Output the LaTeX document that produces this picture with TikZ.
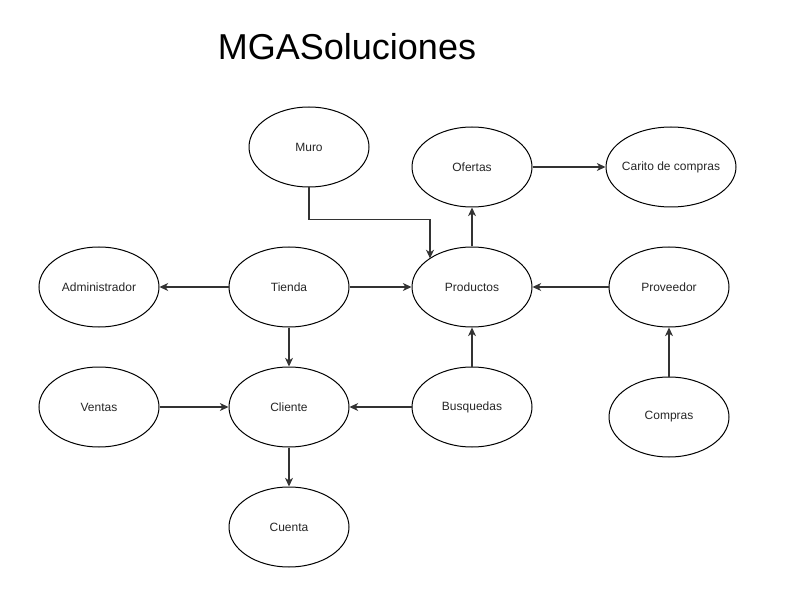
\documentclass[tikz,border=0pt]{standalone}
\usepackage{fontspec}
\setmainfont{Liberation Sans}
\usetikzlibrary{arrows.meta,calc,shapes.geometric}
\begin{document}
\begin{tikzpicture}[x=0.75pt,y=-0.75pt,
  ent/.style={ellipse,draw=black,line width=0.75pt,minimum width=90pt,minimum height=60pt,inner sep=0pt,font=\fontsize{9}{11}\selectfont,text=black!85},
  arr/.style={-{Stealth[length=6.5pt,width=6pt,inset=2pt]},line width=0.8pt,draw=black!80}]
\useasboundingbox (0,0) rectangle (810,602);
\node[font=\fontsize{27}{31}\selectfont] (title) at (347,47) {MGASoluciones};
\node[ent] (muro) at (309,147) {Muro};
\node[ent] (ofertas) at (472,167) {Ofertas};
\node[ent,minimum width=97.5pt] (carito) at (671,167) {\makebox[60pt]{Carito de compras}};
\node[ent] (admin) at (99,287) {Administrador};
\node[ent] (tienda) at (289,287) {Tienda};
\node[ent] (prod) at (472,287) {Productos};
\node[ent] (prov) at (669,287) {Proveedor};
\node[ent] (ventas) at (99,407) {Ventas};
\node[ent] (cliente) at (289,407) {Cliente};
\node[ent] (busq) at (472,407) {Busquedas};
\node[ent] (compras) at (669,417) {Compras};
\node[ent] (cuenta) at (289,527) {Cuenta};
\coordinate (prodin) at (430,258.4);
\draw[arr] (muro.south) -- ++(0,32) -| (prodin);
\draw[arr] (prod.north) -- (ofertas.south);
\draw[arr] (ofertas.east) -- (carito.west);
\draw[arr] (tienda.west) -- (admin.east);
\draw[arr] (tienda.east) -- (prod.west);
\draw[arr] (tienda.south) -- (cliente.north);
\draw[arr] (prov.west) -- (prod.east);
\draw[arr] (compras.north) -- (prov.south);
\draw[arr] (ventas.east) -- (cliente.west);
\draw[arr] (busq.west) -- (cliente.east);
\draw[arr] (busq.north) -- (prod.south);
\draw[arr] (cliente.south) -- (cuenta.north);
\end{tikzpicture}
\end{document}
